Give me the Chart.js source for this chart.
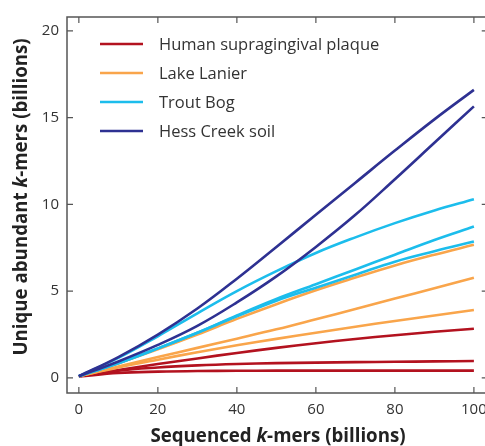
<!DOCTYPE html>
<html>
<head>
<meta charset="utf-8">
<script src="https://cdn.jsdelivr.net/npm/chart.js@4"></script>
<style>
  html, body { margin: 0; padding: 0; background: #fff; overflow: hidden; }
  #wrap { width: 485px; height: 446px; overflow: hidden; }
</style>
</head>
<body>
<div id="wrap"><canvas id="grafico" width="495" height="446"></canvas></div>
<script>
// eixo x: k-mers sequenciados (bilhões)
const kmers = [0, 10, 20, 30, 40, 50, 60, 70, 80, 90, 100];

// Hess Creek soil
const hess1 = [0.1, 1.2, 2.5, 4.0, 5.72, 7.55, 9.4, 11.25, 13.1, 14.9, 16.6];
const hess2 = [0.1, 0.95, 1.9, 3.0, 4.35, 5.85, 7.55, 9.4, 11.45, 13.55, 15.65];
// Trout Bog
const trout1 = [0.1, 1.15, 2.4, 3.72, 5.0, 6.15, 7.2, 8.1, 8.92, 9.65, 10.3];
const trout2 = [0.1, 0.85, 1.7, 2.6, 3.6, 4.55, 5.4, 6.25, 7.1, 7.95, 8.72];
const trout3 = [0.1, 0.85, 1.7, 2.6, 3.55, 4.45, 5.2, 5.95, 6.7, 7.3, 7.86];
// Lake Lanier
const lake1 = [0.1, 0.85, 1.65, 2.5, 3.4, 4.25, 5.05, 5.78, 6.48, 7.1, 7.67];
const lake2 = [0.1, 0.65, 1.2, 1.73, 2.26, 2.8, 3.38, 3.97, 4.57, 5.17, 5.77];
const lake3 = [0.1, 0.6, 1.05, 1.48, 1.88, 2.25, 2.6, 2.95, 3.28, 3.6, 3.91];
// Human supragingival plaque
const human1 = [0.1, 0.45, 0.8, 1.12, 1.44, 1.73, 2.0, 2.24, 2.46, 2.66, 2.83];
const human2 = [0.1, 0.42, 0.6, 0.72, 0.8, 0.85, 0.88, 0.91, 0.93, 0.95, 0.97];
const human3 = [0.08, 0.28, 0.36, 0.4, 0.41, 0.42, 0.42, 0.42, 0.42, 0.42, 0.42];

const legendas = ['Human supragingival plaque', 'Lake Lanier', 'Trout Bog', 'Hess Creek soil'];
const cores = ['#b3121f', '#f9a54b', '#1cbdec', '#2e3192'];
const xTicks = [0, 20, 40, 60, 80, 100];
const yTicks = [0, 5, 10, 15, 20];

const fonte = '"Open Sans", "Noto Sans", sans-serif';

function serie(valores, cor) {
  return {
    data: kmers.map((x, i) => ({ x: x, y: valores[i] })),
    borderColor: cor,
    borderWidth: 2.6,
    pointRadius: 0,
    tension: 0.4,
    fill: false
  };
}

// Hess primeiro para ficar por cima
const datasets = [
  serie(hess1, cores[3]), serie(hess2, cores[3]),
  serie(trout1, cores[2]), serie(trout2, cores[2]), serie(trout3, cores[2]),
  serie(lake1, cores[1]), serie(lake2, cores[1]), serie(lake3, cores[1]),
  serie(human1, cores[0]), serie(human2, cores[0]), serie(human3, cores[0])
];

// moldura, ticks internos, titulos dos eixos e legenda
const moldura = {
  id: 'moldura',
  afterDraw(chart) {
    const ctx = chart.ctx;
    const a = chart.chartArea;
    const sx = chart.scales.x, sy = chart.scales.y;
    ctx.save();
    ctx.strokeStyle = '#555';
    ctx.lineWidth = 1.5;
    ctx.strokeRect(a.left, a.top, a.right - a.left, a.bottom - a.top);
    ctx.lineWidth = 1.2;
    const t = 6;
    ctx.beginPath();
    xTicks.forEach(v => {
      const px = sx.getPixelForValue(v);
      ctx.moveTo(px, a.bottom); ctx.lineTo(px, a.bottom - t);
      ctx.moveTo(px, a.top); ctx.lineTo(px, a.top + t);
    });
    yTicks.forEach(v => {
      const py = sy.getPixelForValue(v);
      ctx.moveTo(a.left, py); ctx.lineTo(a.left + t, py);
      ctx.moveTo(a.right, py); ctx.lineTo(a.right - t, py);
    });
    ctx.stroke();

    // legenda
    legendas.forEach((txt, i) => {
      const y = 44 + i * 29;
      ctx.strokeStyle = cores[i];
      ctx.lineWidth = 2.6;
      ctx.beginPath();
      ctx.moveTo(100, y); ctx.lineTo(143, y);
      ctx.stroke();
      ctx.fillStyle = '#333';
      ctx.font = '16.5px ' + fonte;
      ctx.textAlign = 'left';
      ctx.textBaseline = 'middle';
      ctx.fillText(txt, 159, y + 1);
    });

    // titulos com k em italico
    function titulo(partes, cx, cy, rot) {
      ctx.save();
      ctx.translate(cx, cy);
      ctx.rotate(rot);
      ctx.fillStyle = '#222';
      ctx.textBaseline = 'middle';
      ctx.textAlign = 'left';
      let total = 0;
      partes.forEach(p => { ctx.font = p[1]; total += ctx.measureText(p[0]).width; });
      let x = -total / 2;
      partes.forEach(p => {
        ctx.font = p[1];
        ctx.fillText(p[0], x, 0);
        x += ctx.measureText(p[0]).width;
      });
      ctx.restore();
    }
    const b = 'bold 18.7px ' + fonte, bi = 'italic bold 18.7px ' + fonte;
    titulo([['Unique abundant ', b], ['k', bi], ['-mers (billions)', b]], 22, 197, -Math.PI / 2);
    titulo([['Sequenced ', b], ['k', bi], ['-mers (billions)', b]], 278, 437, 0);
    ctx.restore();
  }
};

const ctx = document.getElementById('grafico');

new Chart(ctx, {
  type: 'line',
  data: { datasets: datasets },
  options: {
    responsive: false,
    animation: false,
    events: [],
    layout: { padding: { top: 13, right: 7, left: 0, bottom: 0 } },
    plugins: { legend: { display: false }, tooltip: { enabled: false } },
    scales: {
      x: {
        type: 'linear',
        min: -3,
        max: 103.5,
        afterBuildTicks: s => { s.ticks = xTicks.map(v => ({ value: v })); },
        afterFit: s => { s.height = 53; },
        grid: { display: false, drawTicks: false },
        border: { display: false },
        ticks: { padding: 8, color: '#333', font: { family: fonte, size: 15 }, maxRotation: 0 }
      },
      y: {
        type: 'linear',
        min: -0.87,
        max: 20.8,
        afterBuildTicks: s => { s.ticks = yTicks.map(v => ({ value: v })); },
        afterFit: s => { s.width = 67; },
        grid: { display: false, drawTicks: false },
        border: { display: false },
        ticks: { padding: 8, color: '#333', font: { family: fonte, size: 15 } }
      }
    }
  },
  plugins: [moldura]
});
</script>
</body>
</html>
